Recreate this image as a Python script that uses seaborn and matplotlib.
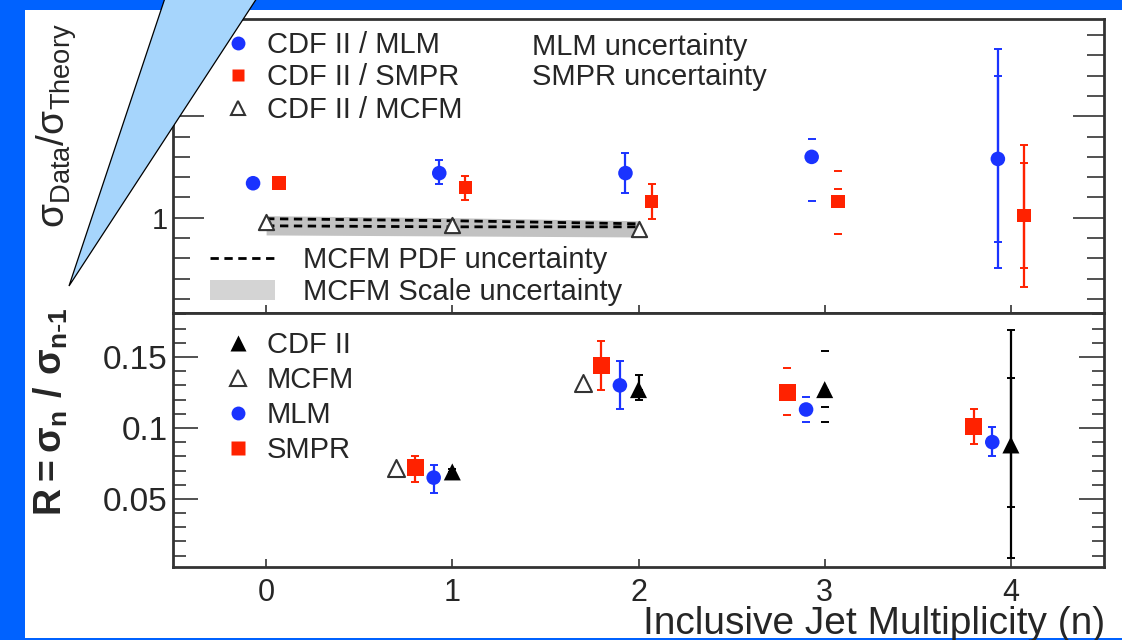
import matplotlib
matplotlib.use("Agg")
import matplotlib.pyplot as plt
from matplotlib.patches import Polygon, Rectangle, Patch
from matplotlib.lines import Line2D
from matplotlib.ticker import MultipleLocator, FuncFormatter
import numpy as np
import pandas as pd
import seaborn as sns

# ---------------- data ----------------
# upper panel: sigma(data) / sigma(theory) per inclusive jet multiplicity
n_bins = [0, 1, 2, 3, 4]
mlm_ratio = [1.17, 1.22, 1.22, 1.30, 1.29]
mlm_tot_up = [0.0, 0.065, 0.10, 0.09, 0.54]
mlm_tot_dn = [0.0, 0.055, 0.10, 0.22, 0.54]
mlm_stat_up = [0.0, 0.0, 0.0, 0.0, 0.41]
mlm_stat_dn = [0.0, 0.0, 0.0, 0.0, 0.41]

smpr_ratio = [1.17, 1.15, 1.08, 1.08, 1.01]
smpr_tot_up = [0.0, 0.055, 0.085, 0.15, 0.35]
smpr_tot_dn = [0.0, 0.065, 0.085, 0.16, 0.35]
smpr_stat_up = [0.0, 0.0, 0.0, 0.06, 0.26]
smpr_stat_dn = [0.0, 0.0, 0.0, 0.0, 0.26]

mcfm_bins = [0, 1, 2]
mcfm_ratio = [0.98, 0.965, 0.945]
mcfm_pdf_hi = [0.995, 0.985, 0.97]
mcfm_pdf_lo = [0.96, 0.955, 0.955]
mcfm_scale_hi = [1.01, 1.00, 0.985]
mcfm_scale_lo = [0.915, 0.91, 0.905]

# lower panel: R = sigma_n / sigma_(n-1)
r_bins = [1, 2, 3, 4]
cdf_R = [0.069, 0.127, 0.127, 0.088]
cdf_tot_up = [0.002, 0.010, 0.027, 0.081]
cdf_tot_dn = [0.002, 0.007, 0.023, 0.080]
cdf_stat_up = [0.0, 0.0, 0.0, 0.047]
cdf_stat_dn = [0.0, 0.0, 0.012, 0.044]

mcfm_r_bins = [1, 2]
mcfm_R = [0.072, 0.132]

smpr_R = [0.072, 0.144, 0.125, 0.101]
smpr_R_up = [0.008, 0.017, 0.017, 0.012]
smpr_R_dn = [0.010, 0.017, 0.016, 0.012]

mlm_R = [0.065, 0.130, 0.113, 0.090]
mlm_R_up = [0.009, 0.017, 0.009, 0.011]
mlm_R_dn = [0.011, 0.017, 0.009, 0.010]

x_ticks = [0, 1, 2, 3, 4]

# ---------------- style ----------------
sns.set_theme(style="ticks")
plt.rcParams["font.family"] = ["Liberation Sans", "DejaVu Sans"]
plt.rcParams["mathtext.default"] = "regular"

SLIDE_BLUE = "#0062ff"
CALLOUT = "#a6d5fc"
BLUE = "#1a33ff"
RED = "#ff2200"
DARK = "#333333"
BAND = "#c2c2c2"

W, H = 1122, 640


def fx(px):
    return px / W


def fy(py):
    return 1 - py / H


fig = plt.figure(figsize=(W / 100, H / 100), dpi=100, facecolor=SLIDE_BLUE)

# white slide body
fig.add_artist(Rectangle((fx(25), fy(638)), fx(1122) - fx(25), fy(10) - fy(638),
                         transform=fig.transFigure, facecolor="white",
                         edgecolor="none", zorder=-5))

ax_top = fig.add_axes([fx(173), fy(313), fx(1104) - fx(173), fy(19) - fy(313)])
ax_bot = fig.add_axes([fx(173), fy(567), fx(1104) - fx(173), fy(313) - fy(567)],
                      sharex=ax_top)

# bins whose error bars show only their end caps
bounds_only_bin = 3


def draw_errors(ax, x, y, up, dn, color, capsize=3.0, lw=1.6):
    x = np.asarray(x, float)
    y = np.asarray(y, float)
    up = np.asarray(up, float)
    dn = np.asarray(dn, float)
    bins = np.rint(x).astype(int)
    full = bins != bounds_only_bin
    for mask, elw in ((full, lw), (~full, 0.0)):
        if mask.any():
            ax.errorbar(x[mask], y[mask], yerr=[dn[mask], up[mask]], fmt="none",
                        ecolor=color, elinewidth=elw, capsize=capsize,
                        capthick=1.4, zorder=3)


# ---------------- upper panel ----------------
ax = ax_top
xm = np.asarray(n_bins) - 0.07
xs = np.asarray(n_bins) + 0.07

ax.fill_between(mcfm_bins, mcfm_scale_lo, mcfm_scale_hi, color=BAND, lw=0, zorder=1)
ax.plot(mcfm_bins, mcfm_pdf_hi, ls=(0, (3, 2)), color="black", lw=2.0, zorder=2)
ax.plot(mcfm_bins, mcfm_pdf_lo, ls=(0, (3, 2)), color="black", lw=2.0, zorder=2)

draw_errors(ax, xm, mlm_ratio, mlm_tot_up, mlm_tot_dn, BLUE)
draw_errors(ax, xm, mlm_ratio, mlm_stat_up, mlm_stat_dn, BLUE)
draw_errors(ax, xs, smpr_ratio, smpr_tot_up, smpr_tot_dn, RED)
draw_errors(ax, xs, smpr_ratio, smpr_stat_up, smpr_stat_dn, RED)

sns.scatterplot(x=xm, y=mlm_ratio, ax=ax, marker="o", s=110, color=BLUE,
                edgecolor="none", zorder=4, legend=False)
sns.scatterplot(x=xs, y=smpr_ratio, ax=ax, marker="s", s=95, color=RED,
                edgecolor="none", zorder=4, legend=False)
sns.scatterplot(x=mcfm_bins, y=mcfm_ratio, ax=ax, marker="^", s=120,
                facecolor="white", edgecolor=DARK, linewidth=1.5, zorder=4,
                legend=False)

ax.set_ylim(0.53, 1.98)
ax.yaxis.set_major_locator(MultipleLocator(0.5))
ax.yaxis.set_minor_locator(MultipleLocator(0.1))
ax.yaxis.set_major_formatter(FuncFormatter(lambda v, p: "1" if abs(v - 1) < 1e-9 else ""))
ax.tick_params(axis="y", which="major", direction="in", length=22, width=1.2,
               color=DARK, left=True, right=True, labelsize=21, pad=4)
ax.tick_params(axis="y", which="minor", direction="in", length=12, width=1.2,
               color=DARK, left=True, right=True)
ax.tick_params(axis="x", which="major", direction="in", length=6, width=1.2,
               color=DARK, bottom=True, top=False, labelbottom=False)
ax.set_ylabel(r"$\sigma_{Data}/\sigma_{Theory}$", fontsize=28,
              va="center", ha="center", rotation_mode="default")
ax.yaxis.set_label_coords(fx(57), fy(126), transform=fig.transFigure)

# ---------------- lower panel ----------------
ax = ax_bot
x_mcfm = np.asarray(mcfm_r_bins) - 0.3
x_smpr = np.asarray(r_bins) - 0.2
x_mlm = np.asarray(r_bins) - 0.1
x_cdf = np.asarray(r_bins, float)

draw_errors(ax, x_smpr, smpr_R, smpr_R_up, smpr_R_dn, RED)
draw_errors(ax, x_mlm, mlm_R, mlm_R_up, mlm_R_dn, BLUE)
draw_errors(ax, x_cdf, cdf_R, cdf_tot_up, cdf_tot_dn, "black")
draw_errors(ax, x_cdf, cdf_R, cdf_stat_up, cdf_stat_dn, "black")

sns.scatterplot(x=x_mcfm, y=mcfm_R, ax=ax, marker="^", s=150, facecolor="white",
                edgecolor=DARK, linewidth=1.5, zorder=4, legend=False)
sns.scatterplot(x=x_smpr, y=smpr_R, ax=ax, marker="s", s=150, color=RED,
                edgecolor="none", zorder=4, legend=False)
sns.scatterplot(x=x_mlm, y=mlm_R, ax=ax, marker="o", s=110, color=BLUE,
                edgecolor="none", zorder=4, legend=False)
sns.scatterplot(x=x_cdf, y=cdf_R, ax=ax, marker="^", s=150, color="black",
                edgecolor="none", zorder=5, legend=False)

ax.set_xlim(-0.5, 4.5)
ax.set_xticks(x_ticks)
ax.set_xticklabels([str(t) for t in x_ticks])
ax.set_ylim(0.002, 0.181)
ax.yaxis.set_major_locator(MultipleLocator(0.05))
ax.yaxis.set_minor_locator(MultipleLocator(0.01))
ax.yaxis.set_major_formatter(FuncFormatter(lambda v, p: f"{v:g}" if v > 0.01 else ""))
ax.tick_params(axis="y", which="major", direction="in", length=18, width=1.2,
               color=DARK, left=True, right=True, labelsize=24, pad=4)
ax.tick_params(axis="y", which="minor", direction="in", length=9, width=1.2,
               color=DARK, left=True, right=True)
ax.tick_params(axis="x", which="major", direction="in", length=6, width=1.2,
               color=DARK, bottom=True, top=False, labelsize=22, pad=8)
ax.set_ylabel(r"$R = \sigma_n\ /\ \sigma_{n\text{-}1}$", fontsize=27,
              fontweight="bold", va="center", ha="center", rotation_mode="default")
ax.yaxis.set_label_coords(fx(51), fy(412), transform=fig.transFigure)
ax.set_xlabel("Inclusive Jet Multiplicity (n)", fontsize=28, ha="right", va="baseline")
ax.xaxis.set_label_coords(fx(1105), fy(634), transform=fig.transFigure)

for a in (ax_top, ax_bot):
    a.set_facecolor("white")
    for sp in a.spines.values():
        sp.set_color(DARK)
        sp.set_linewidth(2.0)
        sp.set_visible(True)

# ---------------- legends ----------------
LEG_FS = 21
leg_kw = dict(frameon=False, borderpad=0, borderaxespad=0,
              bbox_transform=fig.transFigure, fontsize=LEG_FS, loc="upper left")

fig.legend(handles=[Line2D([], [], ls="none", marker="o", ms=10, color=BLUE, mec="none"),
                    Line2D([], [], ls="none", marker="s", ms=9, color=RED, mec="none"),
                    Line2D([], [], ls="none", marker="^", ms=10, mfc="white", mec=DARK, mew=1.5)],
           labels=["CDF II / MLM", "CDF II / SMPR", "CDF II / MCFM"],
           bbox_to_anchor=(fx(223), fy(31)), handlelength=1.0, handletextpad=0.5,
           labelspacing=0.15, **leg_kw)

fig.legend(handles=[Patch(facecolor="none", edgecolor="none")] * 2,
           labels=["MLM uncertainty", "SMPR uncertainty"],
           bbox_to_anchor=(fx(532), fy(33)), handlelength=0, handletextpad=0,
           labelspacing=0.08, **leg_kw)

fig.legend(handles=[Line2D([], [], ls=(0, (3, 2)), color="black", lw=2.0),
                    Patch(facecolor="#d4d4d4", edgecolor="none")],
           labels=["MCFM PDF uncertainty", "MCFM Scale uncertainty"],
           bbox_to_anchor=(fx(210), fy(246)), handlelength=2.23, handletextpad=0.96,
           labelspacing=0.15, **leg_kw)

fig.legend(handles=[Line2D([], [], ls="none", marker="^", ms=11, color="black", mec="none"),
                    Line2D([], [], ls="none", marker="^", ms=11, mfc="white", mec=DARK, mew=1.5),
                    Line2D([], [], ls="none", marker="o", ms=10, color=BLUE, mec="none"),
                    Line2D([], [], ls="none", marker="s", ms=10, color=RED, mec="none")],
           labels=["CDF II", "MCFM", "MLM", "SMPR"],
           bbox_to_anchor=(fx(223), fy(331)), handlelength=1.0, handletextpad=0.5,
           labelspacing=0.24, **leg_kw)

# ---------------- callout wedge ----------------
fig.add_artist(Polygon([(fx(69), fy(286)), (fx(165), fy(-2)), (fx(257), fy(-2))],
                       closed=True, transform=fig.transFigure, facecolor=CALLOUT,
                       edgecolor="black", linewidth=0.9, zorder=20))

fig.savefig("out.png", dpi=100, facecolor=SLIDE_BLUE)
